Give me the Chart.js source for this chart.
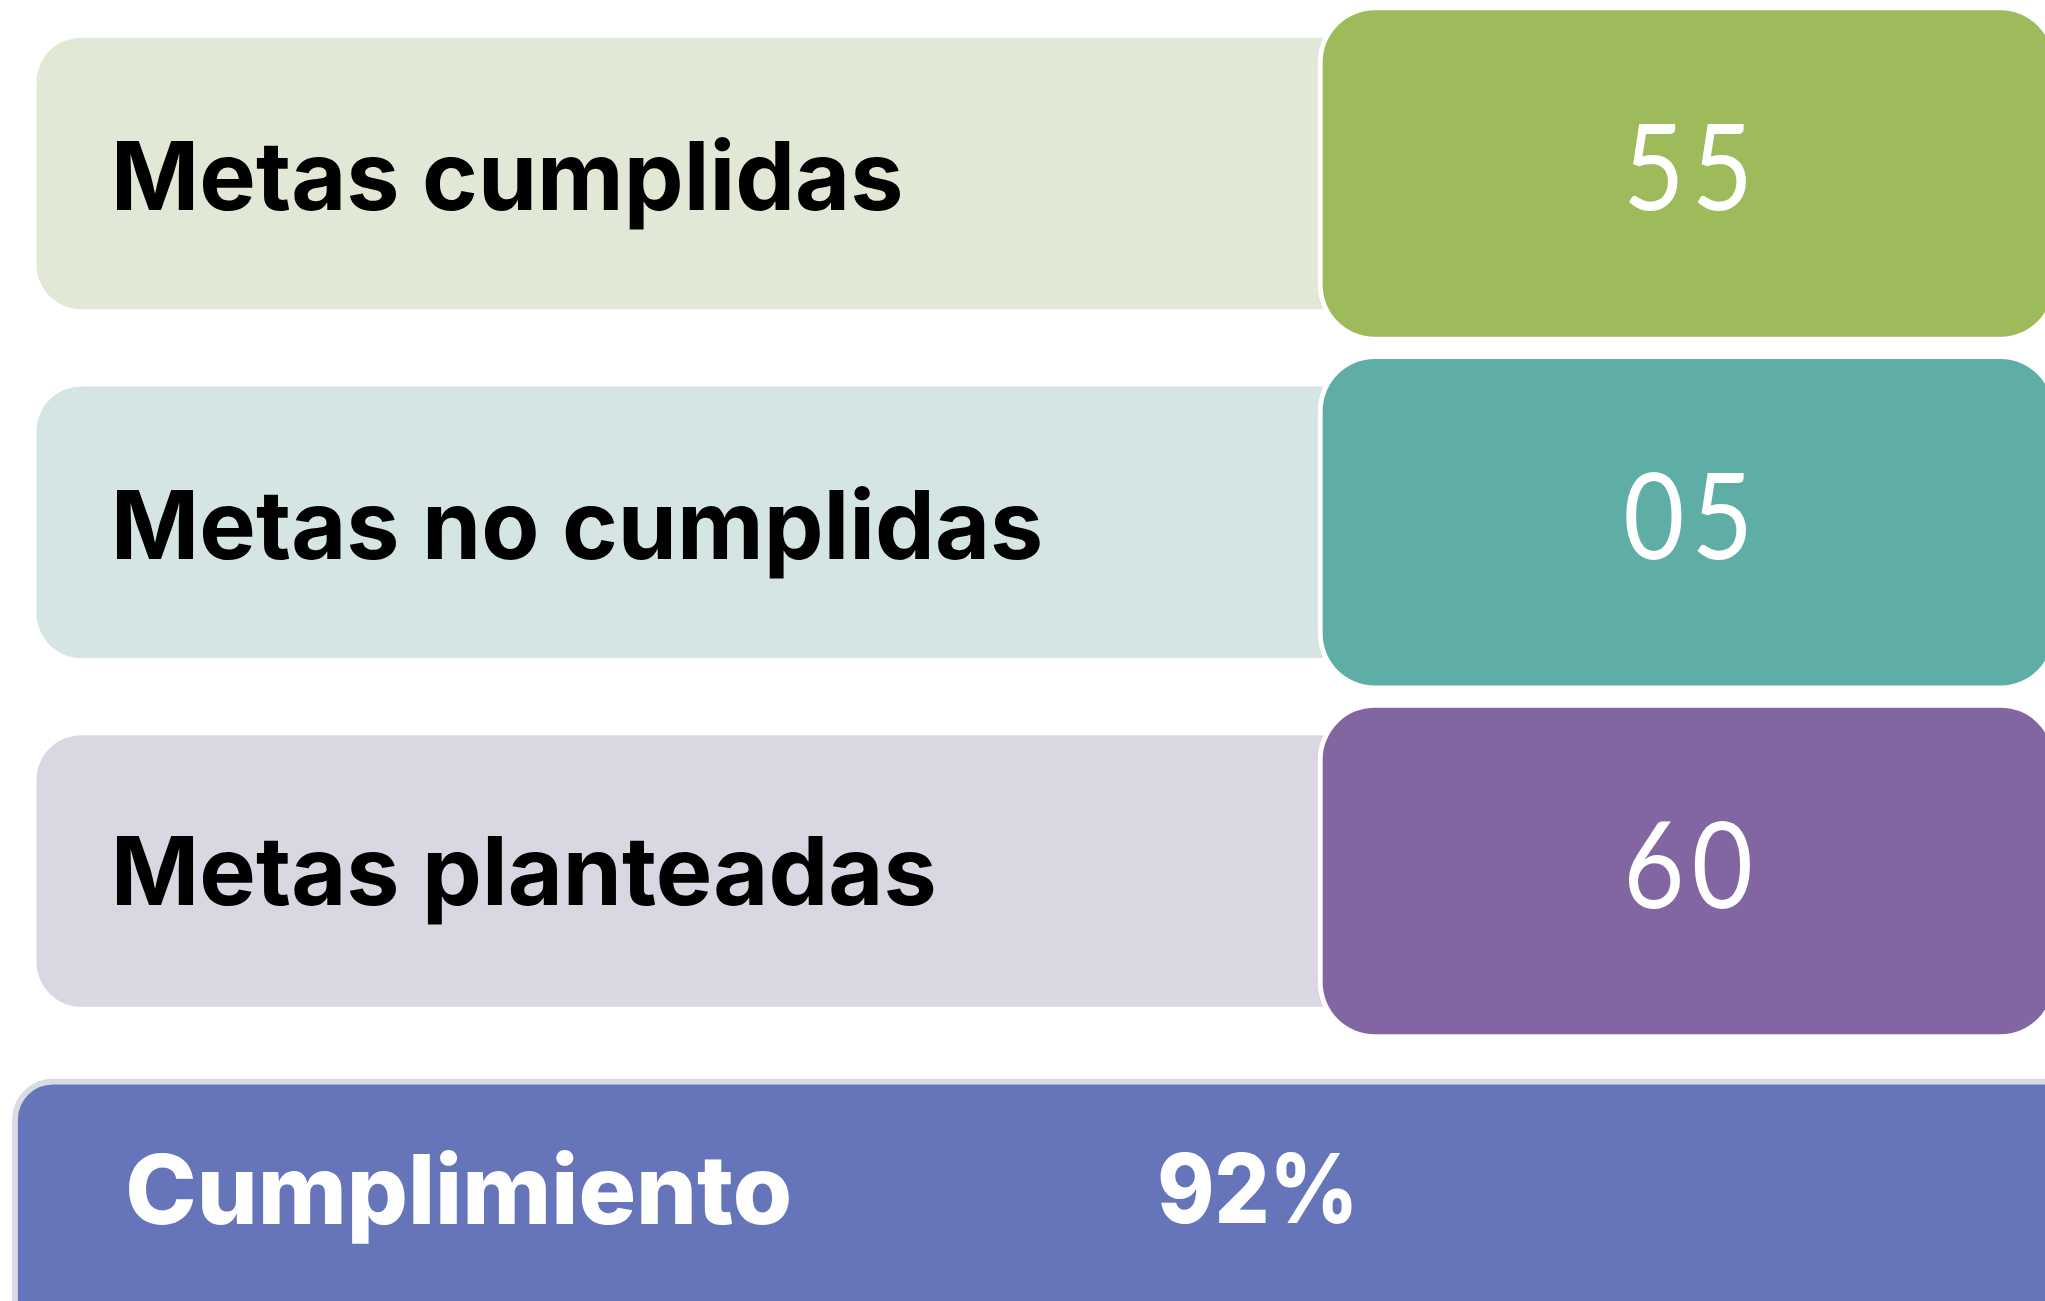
<!DOCTYPE html>
<html lang="es">
<head>
<meta charset="utf-8">
<title>Metas</title>
<script src="https://cdn.jsdelivr.net/npm/chart.js@4.4.1/dist/chart.umd.min.js"></script>
<style>
  html, body { margin: 0; padding: 0; background: #ffffff; overflow: hidden; }
  #contenedor { position: relative; width: 2045px; height: 1301px; }
</style>
</head>
<body>
<div id="contenedor"><canvas id="grafico"></canvas></div>
<script>
// Datos
const categorias = ["Metas cumplidas", "Metas no cumplidas", "Metas planteadas"];
const valores = [55, 5, 60];
const resumenEtiqueta = "Cumplimiento";
const resumenValor = 92; // porcentaje

// Colores de cada fila
const coloresClaros = ["#e1e8d5", "#d5e5e3", "#dad7e3"];
const coloresFuertes = ["#9dbb5b", "#5faea6", "#8266a1"];
const colorResumen = "#6674ba";

// Extension horizontal de las cajas (en % del ancho)
const cajaClara = [1.8, 72];
const cajaFuerte = [64.45, 100.6];
const barraResumen = [0.6, 102];

const filas = categorias.map((_, i) => i);

// dibuja un texto centrado verticalmente sobre su altura visible
function escribir(ctx, s, x, yCentro, align, sx) {
  const m = ctx.measureText(s);
  const alto = m.actualBoundingBoxAscent;
  const ancho = m.width * sx;
  let x0 = x;
  if (align === "center") x0 = x - ancho / 2;
  ctx.save();
  ctx.translate(x0, yCentro + alto / 2);
  ctx.scale(sx, 1);
  ctx.textAlign = "left";
  ctx.textBaseline = "alphabetic";
  ctx.fillText(s, 0, 0);
  ctx.restore();
}

const textos = {
  id: "textos",
  afterDatasetsDraw(chart) {
    const ctx = chart.ctx;
    const fuertes = chart.getDatasetMeta(0).data;
    const claras = chart.getDatasetMeta(1).data;
    const resumen = chart.getDatasetMeta(2).data[0];
    ctx.save();

    // nombres de las filas
    ctx.fillStyle = "#000000";
    ctx.font = "700 95px Inter";
    claras.forEach((el, i) => {
      const izq = Math.min(el.x, el.base);
      escribir(ctx, categorias[i], izq + 74, el.y, "left", 1);
    });

    // valores
    ctx.fillStyle = "#ffffff";
    ctx.font = "400 120px Lato";
    ctx.letterSpacing = "8px";
    fuertes.forEach((el, i) => {
      const centro = (el.x + el.base) / 2;
      const s = String(valores[i]).padStart(2, "0");
      escribir(ctx, s, centro + 4, el.y - 7, "center", 0.88);
    });
    ctx.letterSpacing = "0px";

    // barra de cumplimiento
    const izq = Math.min(resumen.x, resumen.base);
    ctx.font = "800 96px Inter";
    escribir(ctx, resumenEtiqueta, izq + 113, resumen.y - 33, "left", 1);
    escribir(ctx, resumenValor + "%", izq + 1145, resumen.y - 33, "left", 0.9);

    ctx.restore();
  }
};

new Chart(document.getElementById("grafico"), {
  type: "bar",
  data: {
    datasets: [
      {
        label: "Valor",
        data: filas.map((i) => ({ x: cajaFuerte.slice(), y: i })),
        backgroundColor: coloresFuertes,
        borderColor: "#ffffff",
        borderWidth: 5,
        borderRadius: 57,
        borderSkipped: false,
        barThickness: 336,
        grouped: false,
        order: 0,
      },
      {
        label: "Categoria",
        data: filas.map((i) => ({ x: cajaClara.slice(), y: i })),
        backgroundColor: coloresClaros,
        borderWidth: 0,
        borderRadius: 45,
        borderSkipped: false,
        barThickness: 271,
        grouped: false,
        order: 1,
      },
      {
        label: resumenEtiqueta,
        data: [{ x: barraResumen.slice(), y: categorias.length }],
        backgroundColor: colorResumen,
        borderColor: "#d8dbe3",
        borderWidth: 6,
        borderRadius: 41,
        borderSkipped: false,
        barThickness: 282,
        grouped: false,
        order: 2,
      },
    ],
  },
  options: {
    indexAxis: "y",
    responsive: true,
    maintainAspectRatio: false,
    animation: false,
    layout: { padding: 0 },
    plugins: {
      legend: { display: false },
      tooltip: { enabled: false },
    },
    scales: {
      x: { type: "linear", min: 0, max: 100, display: false },
      y: {
        type: "linear",
        reverse: true,
        min: -0.4975,
        max: 3.233,
        offset: false,
        display: false,
      },
    },
  },
  plugins: [textos],
});
</script>
</body>
</html>
